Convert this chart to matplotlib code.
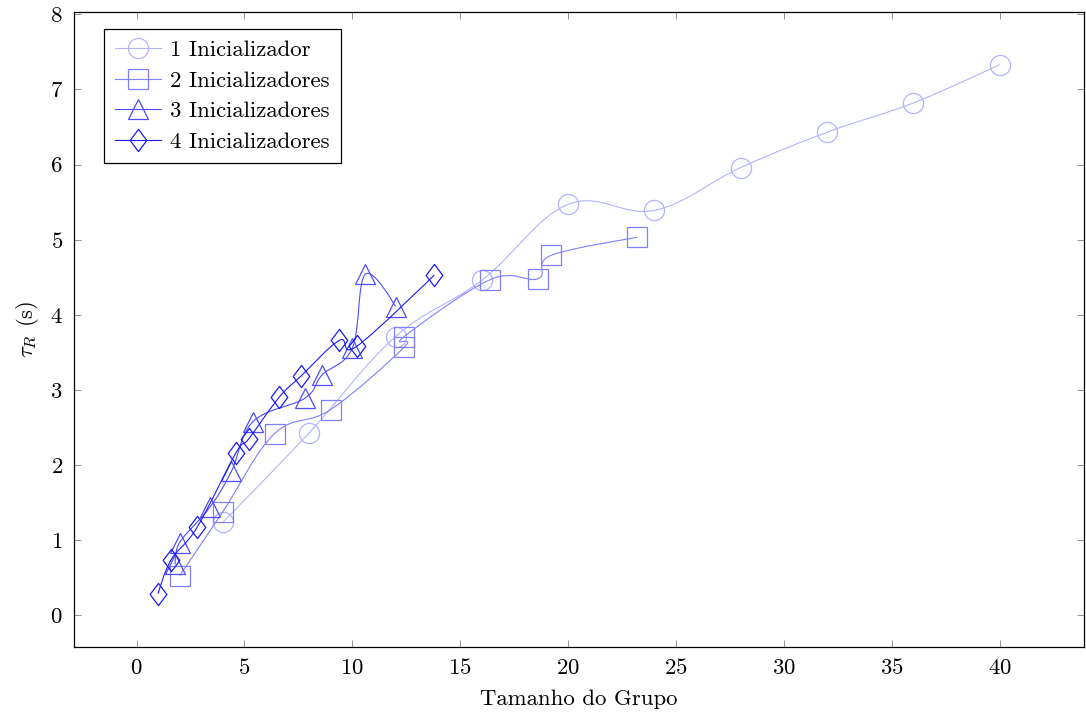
import numpy as np
import matplotlib
matplotlib.use("Agg")
import matplotlib.pyplot as plt
from matplotlib.path import Path
from matplotlib.patches import PathPatch
from matplotlib.lines import Line2D

plt.rcParams['font.family'] = 'serif'
plt.rcParams['font.serif'] = ['cmr10']
plt.rcParams['mathtext.fontset'] = 'cm'
plt.rcParams['axes.formatter.use_mathtext'] = True

# ---- data ----
x1 = [4, 8, 12, 16, 20, 24, 28, 32, 36, 40]
y1 = [1.24, 2.43, 3.71, 4.46, 5.47, 5.39, 5.96, 6.43, 6.82, 7.33]

x2 = [2, 4, 6.4, 9, 12.4, 12.4, 16.4, 18.6, 19.2, 23.2]
y2 = [0.53, 1.38, 2.42, 2.74, 3.57, 3.71, 4.47, 4.48, 4.79, 5.03]

x3 = [1.8, 2.0, 3.4, 4.4, 5.4, 7.8, 8.6, 10.0, 10.6, 12.0]
y3 = [0.68, 0.97, 1.44, 1.92, 2.58, 2.89, 3.20, 3.56, 4.54, 4.11]

x4 = [1.0, 1.6, 2.8, 4.6, 5.2, 6.6, 7.6, 9.4, 10.2, 13.8]
y4 = [0.29, 0.74, 1.17, 2.16, 2.35, 2.90, 3.18, 3.66, 3.58, 4.53]

labels = ['1 Inicializador', '2 Inicializadores', '3 Inicializadores', '4 Inicializadores']
xticks = [0, 5, 10, 15, 20, 25, 30, 35, 40]
yticks = [0, 1, 2, 3, 4, 5, 6, 7, 8]

colors = ['#b3b3ff', '#8080ff', '#4d4dff', '#1a1aff']
diamond = Path([(0, 1), (0.75, 0), (0, -1), (-0.75, 0), (0, 1)],
               [Path.MOVETO, Path.LINETO, Path.LINETO, Path.LINETO, Path.CLOSEPOLY])
markers = ['o', 's', '^', diamond]
msizes = [14.5, 15, 14, 16]
FS = 16.4


def smooth_path(x, y, k=0.183):
    p = np.column_stack([x, y]).astype(float)
    n = len(p)
    verts = [p[0]]
    codes = [Path.MOVETO]
    for i in range(n - 1):
        c1 = p[i] + k * (p[i + 1] - p[i - 1]) if i > 0 else p[0]
        c2 = p[i + 1] - k * (p[i + 2] - p[i]) if i + 2 < n else p[n - 1]
        verts += [c1, c2, p[i + 1]]
        codes += [Path.CURVE4] * 3
    return Path(verts, codes)


fig = plt.figure(figsize=(10.86, 7.13), dpi=100)
ax = fig.add_axes([0.0681, 0.0926, 0.930, 0.8906])

series = [(x1, y1), (x2, y2), (x3, y3), (x4, y4)]
handles = []
for i, (xs, ys) in enumerate(series):
    patch = PathPatch(smooth_path(xs, ys), facecolor='none', edgecolor=colors[i],
                      lw=0.8, zorder=2 + 2 * i)
    ax.add_patch(patch)
    ax.plot(xs, ys, linestyle='none', marker=markers[i], ms=msizes[i],
            mfc='none', mec=colors[i], mew=0.9, zorder=3 + 2 * i)
    handles.append(Line2D([], [], color=colors[i], lw=0.8, marker=markers[i],
                          ms=msizes[i], mfc='none', mec=colors[i], mew=0.9))

ax.set_xlim(-2.9, 43.9)
ax.set_ylim(-0.42, 8.03)
ax.set_xticks(xticks)
ax.set_yticks(yticks)
ax.tick_params(direction='in', top=True, right=True, length=5, width=0.6,
               color='0.5', labelsize=FS)
ax.tick_params(axis='x', pad=8)
ax.tick_params(axis='y', pad=8)
for s in ax.spines.values():
    s.set_linewidth(0.9)

ax.set_xlabel('Tamanho do Grupo', fontsize=FS, labelpad=8)
ax.set_ylabel(r'$\tau_R$ (s)', fontsize=FS, labelpad=6)

leg = ax.legend(handles, labels, loc='upper left', bbox_to_anchor=(0.0297, 0.973),
                fontsize=FS, frameon=True, fancybox=False, edgecolor='black',
                framealpha=1, handlelength=2.0, handletextpad=0.4,
                labelspacing=0.46, borderpad=0.5, borderaxespad=0)
leg.get_frame().set_linewidth(0.9)

fig.savefig('out.png', dpi=100)
